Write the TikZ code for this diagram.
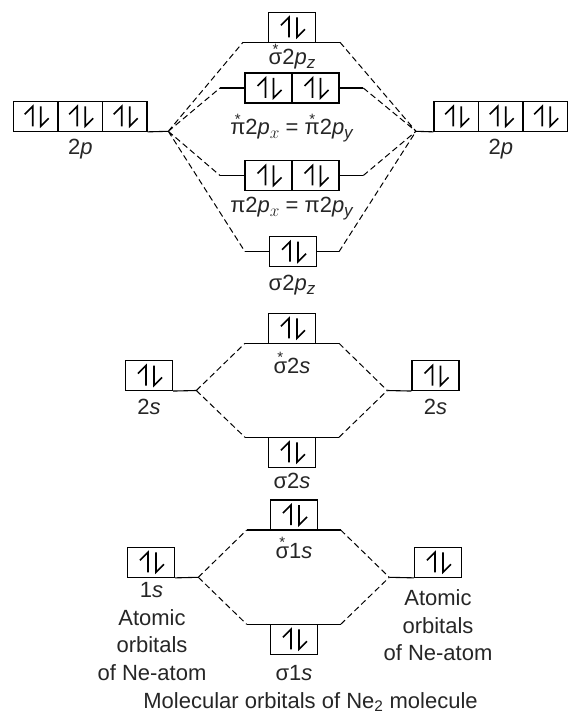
\documentclass[tikz,border=0pt]{standalone}
\usepackage{fontspec}
\setmainfont{Liberation Sans}
\newcommand\abond[1]{{\ooalign{#1\cr\hidewidth\raisebox{10.5pt}{\fontsize{15}{15}\selectfont *}\hidewidth\cr}}}
\newcommand\lowidx[1]{\raisebox{-4pt}{\fontsize{17}{17}\selectfont\itshape #1}}
\tikzset{
  orb/.style={draw, line width=1.1pt, minimum width=47pt, minimum height=30pt, inner sep=0pt},
  aorb/.style={orb, minimum width=44.5pt},
  lvl/.style={line width=1.1pt},
  link/.style={line width=1pt, dash pattern=on 6pt off 3.5pt},
  spin/.style={line width=1.6pt},
  lbl/.style={anchor=base, inner sep=0pt, text=black!85},
}
\begin{document}
\begin{tikzpicture}[x=1pt, y=-1pt, font=\fontsize{22}{27.5}\selectfont]
    \useasboundingbox (0,0) rectangle (568,719);
    % 2p
    \node[aorb] (a2pL1) at (35.75,116.3) {};
    \node[aorb] (a2pL2) at (80.25,116.3) {};
    \node[aorb] (a2pL3) at (124.75,116.3) {};
    \node[aorb] (a2pR1) at (456.25,116.3) {};
    \node[aorb] (a2pR2) at (500.75,116.3) {};
    \node[aorb] (a2pR3) at (545.25,116.3) {};
    \node[lbl] (t2pL) at (80.25,154.3) {2\textit{p}};
    \node[lbl] (t2pR) at (500.75,154.3) {2\textit{p}};
    \coordinate (jL) at (168.3,131.3);
    \coordinate (jR) at (416,131.3);
    \draw[lvl] (a2pL3.south east) -- (jL) (jR) -- (a2pR1.south west);

    \node[orb] (sA) at (292,27.3) {};
    \coordinate (sAl) at (243,42.3);
    \coordinate (sAr) at (340,42.3);
    \draw[lvl] (sAl) -- (sAr);
    \node[lbl] (tsA) at (292,65) {\abond{σ}2\textit{p}\lowidx{z}};

    \node[orb] (pA1) at (268.5,88) {};
    \node[orb] (pA2) at (315.5,88) {};
    \coordinate (pAl) at (220,88);
    \coordinate (pAr) at (363.3,88);
    \draw[lvl] (pAl) -- (pA1.west) (pA2.east) -- (pAr);
    \node[lbl] (tpA) at (291.5,135) {\abond{π}2\textit{p}\lowidx{$x$} = \abond{π}2\textit{p}\lowidx{y}};

    \node[orb] (pB1) at (268.5,175.5) {};
    \node[orb] (pB2) at (315.5,175.5) {};
    \coordinate (pBl) at (220,175.5);
    \coordinate (pBr) at (363.3,175.5);
    \draw[lvl] (pBl) -- (pB1.west) (pB2.east) -- (pBr);
    \node[lbl] (tpB) at (291.5,213) {π2\textit{p}\lowidx{$x$} = π2\textit{p}\lowidx{y}};

    \node[orb] (sB) at (293,251.7) {};
    \coordinate (sBl) at (245,251.7);
    \coordinate (sBr) at (339,251.7);
    \draw[lvl] (sBl) -- (sB.west) (sB.east) -- (sBr);
    \node[lbl] (tsB) at (292,290) {σ2\textit{p}\lowidx{z}};

    \draw[link] (jL) -- (sAl) (jL) -- (pAl) (jL) -- (pBl) (jL) -- (sBl);
    \draw[link] (sAr) -- (jR) (pAr) -- (jR) (pBr) -- (jR) (sBr) -- (jR);

    % 2s
    \node[orb] (s2A) at (292,328.3) {};
    \coordinate (s2Al) at (245,343.3);
    \coordinate (s2Ar) at (339,343.3);
    \draw[lvl] (s2Al) -- (s2Ar);
    \node[lbl] (ts2A) at (292,373.3) {\abond{σ}2\textit{s}};
    \node[orb] (a2sL) at (149,375.5) {};
    \node[orb] (a2sR) at (435.5,375.5) {};
    \node[lbl] (t2sL) at (149,414.3) {2\textit{s}};
    \node[lbl] (t2sR) at (435.5,414.3) {2\textit{s}};
    \coordinate (j2L) at (196.3,390.5);
    \coordinate (j2R) at (387.3,390.5);
    \draw[lvl] (a2sL.south east) -- (j2L) (j2R) -- (a2sR.south west);
    \node[orb] (s2B) at (292,452.3) {};
    \coordinate (s2Bl) at (245,437.3);
    \coordinate (s2Br) at (339,437.3);
    \draw[lvl] (s2Bl) -- (s2Br);
    \node[lbl] (ts2B) at (292,488.3) {σ2\textit{s}};
    \draw[link] (j2L) -- (s2Al) (j2L) -- (s2Bl) (s2Ar) -- (j2R) (s2Br) -- (j2R);

    % 1s
    \node[orb] (s1A) at (294,515) {};
    \coordinate (s1Al) at (246.7,530);
    \coordinate (s1Ar) at (340.7,530);
    \draw[lvl] (s1Al) -- (s1Ar);
    \node[lbl] (ts1A) at (294,558.3) {\abond{σ}1\textit{s}};
    \node[orb] (a1sL) at (151,562.3) {};
    \node[orb] (a1sR) at (438,562.3) {};
    \node[lbl] (t1sL) at (151.5,597.3) {1\textit{s}};
    \coordinate (j1L) at (198.3,577.3);
    \coordinate (j1R) at (389.3,577.3);
    \draw[lvl] (a1sL.south east) -- (j1L) (j1R) -- (a1sR.south west);
    \node[orb] (s1B) at (294,639.3) {};
    \coordinate (s1Bl) at (246.7,624.3);
    \coordinate (s1Br) at (340.7,624.3);
    \draw[lvl] (s1Bl) -- (s1Br);
    \node[lbl] (ts1B) at (294,680) {σ1\textit{s}};
    \draw[link] (j1L) -- (s1Al) (j1L) -- (s1Bl) (s1Ar) -- (j1R) (s1Br) -- (j1R);

    \node[lbl, align=center] (atomL) at (152,680) {Atomic\\orbitals\\of Ne-atom};
    \node[lbl, align=center] (atomR) at (438,660.7) {Atomic\\orbitals\\of Ne-atom};
    \node[lbl] (caption) at (310.5,708.3) {Molecular orbitals of Ne\textsubscript{2} molecule};

    % paired spins
    \foreach \b in {sA,pA1,pA2,pB1,pB2,sB,a2pL1,a2pL2,a2pL3,a2pR1,a2pR2,a2pR3,
                    s2A,s2B,a2sL,a2sR,s1A,s1B,a1sL,a1sR} {
        \draw[spin] (\b.center) ++(-3,10) -- ++(0,-20) -- ++(-8,8);
        \draw[spin] (\b.center) ++(5,-10) -- ++(0,20) -- ++(8,-8);
    }
\end{tikzpicture}
\end{document}
